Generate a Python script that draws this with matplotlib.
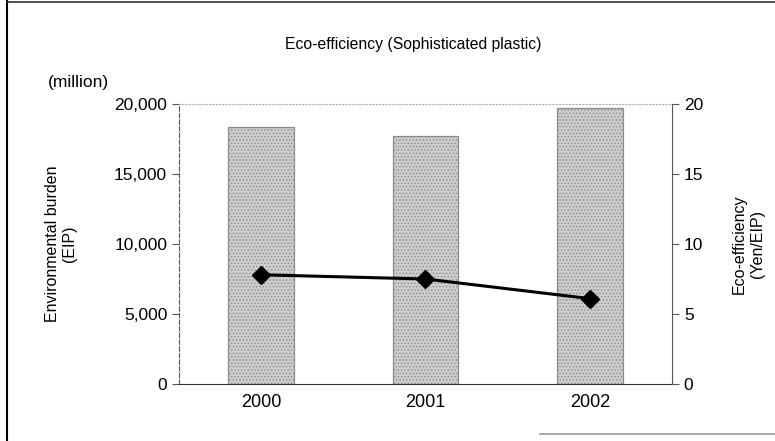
import matplotlib.pyplot as plt

years = ['2000', '2001', '2002']
burden = [18350, 17700, 19700]        # Environmental burden (million EIP)
efficiency = [7.8, 7.5, 6.1]          # Eco-efficiency (Yen/EIP)
left_ticks = [0, 5000, 10000, 15000, 20000]
left_labels = ['0', '5,000', '10,000', '15,000', '20,000']
right_ticks = [0, 5, 10, 15, 20]

plt.rcParams['font.family'] = ['Liberation Sans', 'DejaVu Sans']
plt.rcParams['hatch.linewidth'] = 0.6

fig = plt.figure(figsize=(7.75, 4.41), dpi=100)
ax = fig.add_axes([179/775, 1-384/441, (672-179)/775, (384-104)/441])

x = range(len(years))
ax.bar(x, burden, width=0.4, color='#cdcdcd', edgecolor='#8c8c8c', hatch='.....',
       linewidth=0.9, zorder=2)
ax.set_xlim(-0.5, 2.5)
ax.set_ylim(0, 20000)
ax.set_yticks(left_ticks)
ax.set_yticklabels(left_labels)
ax.set_xticks(list(x))
ax.set_xticklabels(years)
ax.tick_params(axis='x', length=0, labelsize=13, pad=7)
ax.tick_params(axis='y', labelsize=12.5, length=5, color='#555555')
ax.set_ylabel('Environmental burden\n(EIP)', fontsize=11.5)
ax.yaxis.set_label_coords(-0.207, 0.5)

ax.spines['left'].set_linestyle((0, (4, 2)))
ax.spines['left'].set_color('#555555')
ax.spines['top'].set_linestyle((0, (1, 2)))
ax.spines['top'].set_color('#aaaaaa')
ax.spines['bottom'].set_color('#333333')
ax.spines['right'].set_visible(False)

ax2 = ax.twinx()
ax2.plot(x, efficiency, color='black', linewidth=2.2, marker='D', markersize=9, zorder=3)
ax2.set_ylim(0, 20)
ax2.set_yticks(right_ticks)
ax2.tick_params(axis='y', labelsize=12.5, length=5, color='#555555')
ax2.set_ylabel('Eco-efficiency\n(Yen/EIP)', fontsize=11.5)
ax2.yaxis.set_label_coords(1.122, 0.5)
for s in ['left', 'top', 'bottom']:
    ax2.spines[s].set_visible(False)
ax2.spines['right'].set_color('#555555')

fig.text(413/775, 1-45/441, 'Eco-efficiency (Sophisticated plastic)', ha='center', va='center', fontsize=11.3)
fig.text(78/775, 1-83/441, '(million)', ha='center', va='center', fontsize=12.5)

# outer frame of the original chart
fig.add_artist(plt.Line2D([7/775, 7/775], [0, 1], color='black', linewidth=1.5, transform=fig.transFigure))
fig.add_artist(plt.Line2D([7/775, 1], [1-1.5/441, 1-1.5/441], color='#333333', linewidth=1.2, transform=fig.transFigure))
fig.add_artist(plt.Line2D([540/775, 1], [1-434/441, 1-434/441], color='#999999', linewidth=1.2, transform=fig.transFigure))

plt.savefig('out.png', dpi=100)
